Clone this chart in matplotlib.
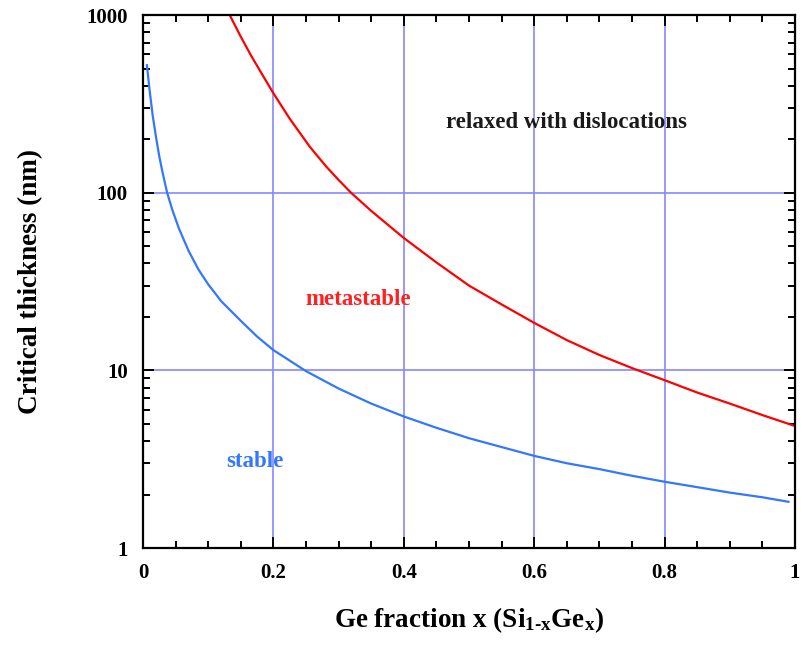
import matplotlib
matplotlib.use("Agg")
import matplotlib.pyplot as plt
from matplotlib.ticker import MultipleLocator, LogLocator, NullFormatter

plt.rcParams['font.family'] = ['Liberation Serif', 'DejaVu Serif']
plt.rcParams['mathtext.fontset'] = 'custom'
plt.rcParams['mathtext.rm'] = 'Liberation Serif:bold'
plt.rcParams['mathtext.it'] = 'Liberation Serif:bold'

# stable limit (blue curve)
stable_x = [0.006, 0.01, 0.015, 0.02, 0.025, 0.03, 0.037, 0.045, 0.055, 0.07,
            0.085, 0.1, 0.12, 0.15, 0.175, 0.2, 0.25, 0.3, 0.35, 0.4,
            0.45, 0.5, 0.55, 0.6, 0.65, 0.7, 0.75, 0.8, 0.85, 0.9, 0.95, 0.99]
stable_y = [522, 380, 270, 205, 160, 130, 100, 80, 63, 47,
            37, 30.5, 24.5, 19, 15.5, 13, 9.9, 7.9, 6.5, 5.5,
            4.75, 4.15, 3.7, 3.3, 3.0, 2.78, 2.55, 2.36, 2.2, 2.05, 1.93, 1.82]

# metastable limit (red curve)
meta_x = [0.133, 0.15, 0.165, 0.18, 0.2, 0.225, 0.256, 0.282, 0.3, 0.319, 0.35,
          0.4, 0.45, 0.5, 0.55, 0.6, 0.65, 0.7, 0.75, 0.8, 0.85, 0.9, 0.95, 1.0]
meta_y = [1000, 755, 598, 482, 363, 261, 181, 139, 118, 100, 79,
          55.6, 40.5, 30, 23.5, 18.5, 14.8, 12.2, 10.3, 8.8, 7.5, 6.5, 5.6, 4.86]

fig = plt.figure(figsize=(8.02, 6.46), dpi=100)
ax = fig.add_axes([0.1783, 0.1517, 0.813, 0.825])

ax.plot(stable_x, stable_y, color='#3377ff', lw=1.6)
ax.plot(meta_x, meta_y, color='#ff0000', lw=1.6)

ax.set_yscale('log')
ax.set_xlim(0, 1)
ax.set_ylim(1, 1000)

ax.xaxis.set_major_locator(MultipleLocator(0.2))
ax.xaxis.set_minor_locator(MultipleLocator(0.05))
ax.yaxis.set_major_locator(LogLocator(base=10))
ax.yaxis.set_minor_locator(LogLocator(base=10, subs=range(2, 10)))
ax.yaxis.set_minor_formatter(NullFormatter())
ax.set_xticks([0, 0.2, 0.4, 0.6, 0.8, 1])
ax.set_xticklabels(['0', '0.2', '0.4', '0.6', '0.8', '1'])
ax.set_yticks([1, 10, 100, 1000])
ax.set_yticklabels(['1', '10', '100', '1000'])

ax.grid(True, which='major', color='#8888ff', lw=1.2)
ax.tick_params(which='both', direction='in', top=True, right=True, width=1.4)
ax.tick_params(which='major', length=8, labelsize=15, pad=11)
ax.tick_params(which='minor', length=5)
for lab in ax.get_xticklabels() + ax.get_yticklabels():
    lab.set_fontweight('bold')
for s in ax.spines.values():
    s.set_linewidth(1.6)

ax.set_xlabel(r'Ge fraction x (Si$_{\rm 1\text{-}x}$Ge$_{\rm x}$)', fontsize=19.5,
              fontweight='bold', labelpad=16)
ax.set_ylabel('Critical thickness (nm)', fontsize=19.5, fontweight='bold', labelpad=31)

ax.text(0.65, 247, 'relaxed with dislocations', fontsize=16.5, fontweight='bold',
        color='#1a1a1a', ha='center', va='center')
ax.text(0.33, 25, 'metastable', fontsize=16.5, fontweight='bold',
        color='#ff2020', ha='center', va='center')
ax.text(0.172, 3.05, 'stable', fontsize=16.5, fontweight='bold',
        color='#3377ff', ha='center', va='center')

fig.savefig('out.png', dpi=100)
